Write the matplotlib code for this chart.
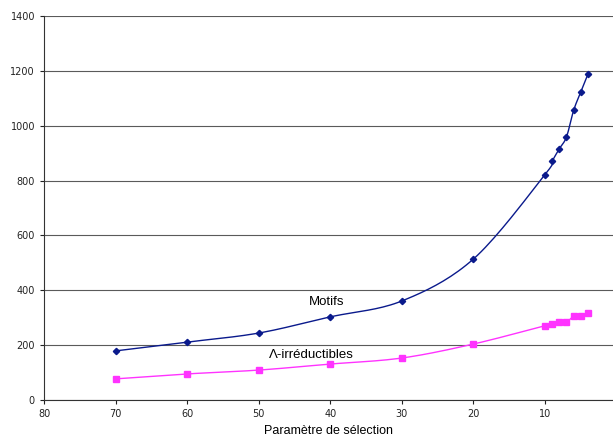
import numpy as np
import matplotlib
matplotlib.use("Agg")
import matplotlib.pyplot as plt

# donnees
param = [70, 60, 50, 40, 30, 20, 10, 9, 8, 7, 6, 5, 4]
motifs = [179, 211, 244, 303, 361, 514, 822, 871, 916, 959, 1056, 1123, 1188]
irred = [77, 95, 109, 131, 153, 204, 271, 278, 283, 284, 305, 306, 317]


def lisse(x, y, n=20):
    # courbe lissee type Catmull-Rom (comme Excel)
    x = np.asarray(x, float)
    y = np.asarray(y, float)
    px = np.concatenate([[2 * x[0] - x[1]], x, [2 * x[-1] - x[-2]]])
    py = np.concatenate([[2 * y[0] - y[1]], y, [2 * y[-1] - y[-2]]])
    t = np.linspace(0, 1, n)
    xs, ys = [], []
    for i in range(1, len(px) - 2):
        for p, out in ((px, xs), (py, ys)):
            p0, p1, p2, p3 = p[i - 1], p[i], p[i + 1], p[i + 2]
            out.extend(0.5 * (2 * p1 + (-p0 + p2) * t
                              + (2 * p0 - 5 * p1 + 4 * p2 - p3) * t ** 2
                              + (-p0 + 3 * p1 - 3 * p2 + p3) * t ** 3))
    return xs, ys


fig = plt.figure(figsize=(6.13, 4.38), dpi=100)
ax = fig.add_axes([0.0718, 0.0868, 0.9282, 0.8767])

bleu = "#0a1a8c"
rose = "#ff33ff"

sx, sy = lisse(param, motifs)
ax.plot(sx, sy, color=bleu, lw=1)
ax.plot(param, motifs, ls="none", marker="D", ms=3.2, color=bleu)

sx, sy = lisse(param, irred)
ax.plot(sx, sy, color=rose, lw=1)
ax.plot(param, irred, ls="none", marker="s", ms=4, color=rose)

ax.text(40.5, 357, "Motifs", fontsize=9.5, ha="center", va="center",
        family="Liberation Sans")
ax.text(42.6, 164, "Λ-irréductibles", fontsize=9.5, ha="center", va="center",
        family="Liberation Sans")

ax.set_xlim(80, 0.5)
ax.set_ylim(0, 1400)
ax.set_xticks(range(80, 0, -10))
ax.set_yticks(range(0, 1401, 200))
ax.yaxis.grid(True, color="#5a5a5a", lw=0.8)
ax.set_axisbelow(True)
for s in ["top", "right"]:
    ax.spines[s].set_visible(False)
for s in ["left", "bottom"]:
    ax.spines[s].set_color("#333333")
ax.tick_params(labelsize=7, length=3, direction="out", colors="#222222")
ax.set_xlabel("Paramètre de sélection", fontsize=9, labelpad=4,
              family="Liberation Sans")

fig.savefig("out.png", dpi=100)
